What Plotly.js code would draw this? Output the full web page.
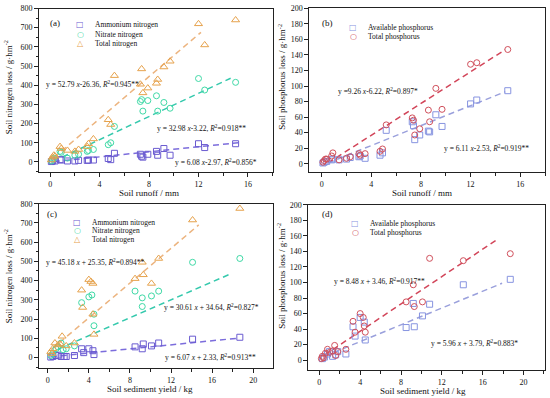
<!DOCTYPE html>
<html><head><meta charset="utf-8">
<script src="https://cdn.plot.ly/plotly-3.0.1.min.js"></script>
<style>html,body{margin:0;padding:0;background:#fff}#chart{width:550px;height:398px}</style>
</head><body><div id="chart"></div>
<script>
// ---------- Panel (a): nitrogen vs runoff (mm) ----------
const aNH4x = [0.1,0.2,0.4,0.8,0.9,1.4,2.0,2.3,3.0,3.1,3.5,4.7,4.9,5.2,7.3,7.4,7.5,7.9,8.6,8.7,9.2,9.7,12.0,12.5,15.0];
const aNH4y = [2,5,5,12,10,5,5,8,8,10,10,18,12,45,40,30,25,40,55,35,70,35,95,75,95];
const aNO3x = [0.1,0.2,0.3,0.8,0.9,1.4,2.0,2.3,3.0,3.1,3.5,4.7,4.9,5.2,7.3,7.4,7.5,7.9,8.6,8.7,9.2,9.7,12.0,12.5,15.0];
const aNO3y = [5,15,20,55,50,20,35,40,55,60,65,90,100,185,315,325,265,320,345,265,310,280,435,375,415];
const aTNx = [0.1,0.2,0.3,0.4,0.8,0.9,1.4,2.0,2.3,3.0,3.1,3.5,4.7,4.9,5.2,7.3,7.4,7.5,7.9,8.6,8.7,9.2,9.7,12.0,12.5,15.0];
const aTNy = [10,25,35,30,80,70,60,55,65,80,95,120,220,195,450,405,485,360,385,410,430,495,525,720,610,740];
// ---------- Panel (b): phosphorus vs runoff (mm) ----------
const bAPx = [0.1,0.2,0.4,0.8,0.9,1.4,2.0,2.3,3.0,3.1,3.5,4.7,4.9,5.2,7.3,7.4,7.5,7.9,8.6,8.7,9.2,9.7,12.0,12.5,15.0];
const bAPy = [1,2,3,5,6,5,6,8,9,10,7,11,14,43,54,49,31,37,42,41,63,48,77,82,94];
const bTPx = [0.1,0.2,0.3,0.4,0.8,0.9,1.4,2.0,2.3,3.0,3.1,3.5,4.7,4.9,5.2,7.3,7.4,7.5,7.9,8.6,8.7,9.2,9.7,12.0,12.5,15.0];
const bTPy = [2,4,6,6,10,14,5,7,9,13,11,13,16,19,50,59,56,37,45,69,54,97,70,128,130,147];
// ---------- Panel (c): nitrogen vs sediment yield (kg) ----------
const cNH4x = [0.3,0.5,0.8,1.0,1.3,1.6,1.8,2.6,3.3,3.5,4.0,4.4,4.5,8.5,9.2,9.3,10.1,10.8,14.1,18.7];
const cNH4y = [2,5,10,12,5,5,5,10,45,25,45,35,15,55,45,70,60,75,95,105];
const cNO3x = [0.3,0.5,0.8,1.0,1.3,1.5,1.8,2.6,3.3,4.0,4.3,4.5,4.5,8.5,9.2,9.2,10.1,10.8,14.1,18.7];
const cNO3y = [10,20,45,55,75,40,45,60,285,315,325,225,165,345,310,265,320,345,495,515];
const cTNx = [0.3,0.4,0.5,0.7,1.0,1.2,1.4,1.8,2.6,3.3,3.4,4.0,4.2,4.4,4.4,4.5,8.5,9.2,9.3,10.1,10.8,14.1,18.7];
const cTNy = [30,20,45,75,65,70,110,60,75,350,260,405,395,385,225,120,410,495,430,385,515,715,775];
// ---------- Panel (d): phosphorus vs sediment yield (kg) ----------
const dAPx = [0.3,0.5,0.8,1.0,1.3,1.6,1.8,2.6,3.3,3.5,4.0,4.4,4.5,8.5,9.2,9.3,10.1,10.8,14.1,18.7];
const dAPy = [2,4,8,11,5,7,11,8,43,31,55,49,26,42,73,43,57,72,97,104];
const dTPx = [0.2,0.3,0.4,0.6,0.8,1.0,1.3,1.5,1.6,1.8,2.6,3.3,3.5,4.0,4.3,4.4,4.5,8.5,9.2,9.3,10.1,10.8,14.1,18.7];
const dTPy = [2,5,3,9,14,10,12,19,6,11,14,50,36,60,55,44,36,75,97,69,75,131,128,137];

// fitted lines as drawn: slope, intercept, x-start, x-end
const fitSlope     = [6.6, 30.2, 54.9, 6.41, 10.2, 5.3, 23.3, 45.18, 5.4, 8.8];
const fitIntercept = [0.0, -4.6, 6.0, -2.2, -4.1, 2.0, 20.0, 25.35, 2.3, 2.0];
const fitXStart    = [0.3, 1.0, 0.3, 0.5, 0.5, 0.3, 1.0, 0.4, 0.5, 0.5];
const fitXEnd      = [15.2, 14.6, 12.2, 14.8, 14.8, 18.7, 17.8, 14.7, 17.9, 17.4];

const eqText = [
  'y = 52.79 <i>x</i>-26.36, <i>R</i><sup>2</sup>=0.945**',
  'y = 32.98 <i>x</i>-3.22, <i>R</i><sup>2</sup>=0.918**',
  'y = 6.08 <i>x</i>-2.97, <i>R</i><sup>2</sup>=0.856*',
  'y =9.26 <i>x</i>-6.22, <i>R</i><sup>2</sup>=0.897*',
  'y = 6.11 <i>x</i>-2.53, <i>R</i><sup>2</sup>=0.919**',
  'y = 45.18 <i>x</i> + 25.35, <i>R</i><sup>2</sup>=0.894**',
  'y = 30.61 <i>x</i> + 34.64, <i>R</i><sup>2</sup>=0.827*',
  'y = 6.07 <i>x</i> + 2.33, <i>R</i><sup>2</sup>=0.913**',
  'y = 8.48 <i>x</i> + 3.46, <i>R</i><sup>2</sup>=0.917**',
  'y = 5.96 <i>x</i> + 3.79, <i>R</i><sup>2</sup>=0.883*'
];

const FONT = '"Liberation Serif","Times New Roman",serif';
const C = {nh4:'#6a5bd0', no3:'#3fd9a6', tn:'#e6a24c', ap:'#8794e0', tp:'#d0505c'};
const L = {nh4:'#7c6ddc', no3:'#35c9ad', tn:'#ecb47f', ap:'#9aa0dc', tp:'#d2465a'};

function pts(x,y,sym,col,xa,ya,sz){
  return {x:x,y:y,type:'scatter',mode:'markers',xaxis:xa,yaxis:ya,showlegend:false,
    marker:{symbol:sym,size:sz||6,color:col,line:{width:1,color:col}},hoverinfo:'x+y'};
}
function fit(i,col,xa,ya){
  const xs=[fitXStart[i],fitXEnd[i]];
  const ys=xs.map(v=>fitSlope[i]*v+fitIntercept[i]);
  return {x:xs,y:ys,type:'scatter',mode:'lines',xaxis:xa,yaxis:ya,showlegend:false,
    line:{color:col,width:1.5,dash:'6px,4px'},hoverinfo:'skip'};
}
const data = [
  fit(0,L.nh4,'x','y'), fit(1,L.no3,'x','y'), fit(2,L.tn,'x','y'),
  pts(aNH4x,aNH4y,'square-open',C.nh4,'x','y'),
  pts(aNO3x,aNO3y,'circle-open',C.no3,'x','y'),
  pts(aTNx,aTNy,'triangle-up-open',C.tn,'x','y',7),
  fit(3,L.ap,'x2','y2'), fit(4,L.tp,'x2','y2'),
  pts(bAPx,bAPy,'square-open',C.ap,'x2','y2'),
  pts(bTPx,bTPy,'circle-open',C.tp,'x2','y2'),
  fit(5,L.nh4,'x3','y3'), fit(6,L.no3,'x3','y3'), fit(7,L.tn,'x3','y3'),
  pts(cNH4x,cNH4y,'square-open',C.nh4,'x3','y3'),
  pts(cNO3x,cNO3y,'circle-open',C.no3,'x3','y3'),
  pts(cTNx,cTNy,'triangle-up-open',C.tn,'x3','y3',7),
  fit(8,L.ap,'x4','y4'), fit(9,L.tp,'x4','y4'),
  pts(dAPx,dAPy,'square-open',C.ap,'x4','y4'),
  pts(dTPx,dTPy,'circle-open',C.tp,'x4','y4')
];

const W=550,H=398;
const px=v=>v/W, py=v=>1-v/H;
function ax(dom,range,dtick,minor,anchor){
  const o={domain:dom,range:range,dtick:dtick,tick0:0,anchor:anchor,showgrid:false,zeroline:false,
    showline:true,linecolor:'#222',linewidth:1,mirror:true,ticks:'outside',ticklen:4,tickwidth:1,
    tickcolor:'#222',tickfont:{family:FONT,size:8,color:'#111'},fixedrange:true};
  if(minor) o.minor={dtick:minor,ticks:'outside',ticklen:2.5,tickwidth:1,tickcolor:'#222',showgrid:false};
  return o;
}
const ann=[];
function txt(x,y,t,opts){
  ann.push(Object.assign({xref:'paper',yref:'paper',x:px(x),y:py(y),text:t,showarrow:false,
    xanchor:'left',yanchor:'middle',font:{family:FONT,size:8,color:'#111'}},opts||{}));
}
const eqf={font:{family:FONT,size:7.5,color:'#111'}};
// equations
txt(44,84,eqText[0],eqf); txt(155,128,eqText[1],eqf); txt(173,162,eqText[2],eqf);
txt(336,91,eqText[3],eqf); txt(442,148,eqText[4],eqf);
txt(44,262,eqText[5],eqf); txt(162,307,eqText[6],eqf); txt(163,357,eqText[7],eqf);
txt(332,281,eqText[8],eqf); txt(429,343,eqText[9],eqf);
// panel labels
const pl={font:{family:FONT,size:9,color:'#111'},xanchor:'center'};
txt(55,23,'(a)',pl); txt(327,23,'(b)',pl); txt(52,214,'(c)',pl); txt(327,214,'(d)',pl);
// legends
function leg(x,y,sym,col,label){
  txt(x,y,sym,{xanchor:'center',font:{family:'DejaVu Sans',size:8,color:col}});
  txt(x+13,y,label,{font:{family:FONT,size:7.5,color:'#111'}});
}
leg(80,25,'□',C.nh4,'Ammonium nitrogen'); leg(80,34.3,'○',C.no3,'Nitrate nitrogen'); leg(80,43.3,'△',C.tn,'Total nitrogen');
leg(353,27.7,'□',C.ap,'Available phosphorus'); leg(353,36.7,'○',C.tp,'Total phosphorus');
leg(77,222,'□',C.nh4,'Ammonium nitrogen'); leg(77,230.7,'○',C.no3,'Nitrate nitrogen'); leg(77,239.7,'△',C.tn,'Total nitrogen');
leg(355,223,'□',C.ap,'Available phosphorus'); leg(355,232,'○',C.tp,'Total phosphorus');
// axis titles
const at={font:{family:FONT,size:9,color:'#111'},xanchor:'center'};
const atv={font:{family:FONT,size:9,color:'#111'},xanchor:'center',textangle:-90};
txt(149,192.7,'Soil runoff / mm',at); txt(421.7,192.7,'Soil runoff / mm',at);
txt(150,388.7,'Soil sediment yield / kg',at); txt(422.7,390.7,'Soil sediment yield / kg',at);
txt(8.3,87,'Soil nitrogen loss / g·hm<sup>-2</sup>',atv);
txt(281.7,77,'Soil phosphorus loss / g·hm<sup>-2</sup>',atv);
txt(8.3,276,'Soil nitrogen loss / g·hm<sup>-2</sup>',atv);
txt(281,275.7,'Soil phosphorus loss / g·hm<sup>-2</sup>',atv);

const layout={width:W,height:H,margin:{l:0,r:0,t:0,b:0},paper_bgcolor:'#fff',plot_bgcolor:'#fff',
  showlegend:false,
  xaxis: ax([px(39),px(272.7)],[-0.9,18.0],4,2,'y'),
  yaxis: ax([py(172.3),py(8.5)],[-54,800],100,50,'x'),
  xaxis2:ax([px(309.3),px(545)],[-1.0,18.0],4,2,'y2'),
  yaxis2:ax([py(172.3),py(8.3)],[-11,200],20,null,'x2'),
  xaxis3:ax([px(39),px(272.7)],[-0.85,21.9],4,2,'y3'),
  yaxis3:ax([py(368),py(203.7)],[-55,800],100,50,'x3'),
  xaxis4:ax([px(308.3),px(545)],[-1.08,22.1],4,2,'y4'),
  yaxis4:ax([py(370.3),py(204.7)],[-13,200],20,null,'x4'),
  annotations:ann};
Plotly.newPlot('chart',data,layout,{staticPlot:true,displayModeBar:false});
</script></body></html>
